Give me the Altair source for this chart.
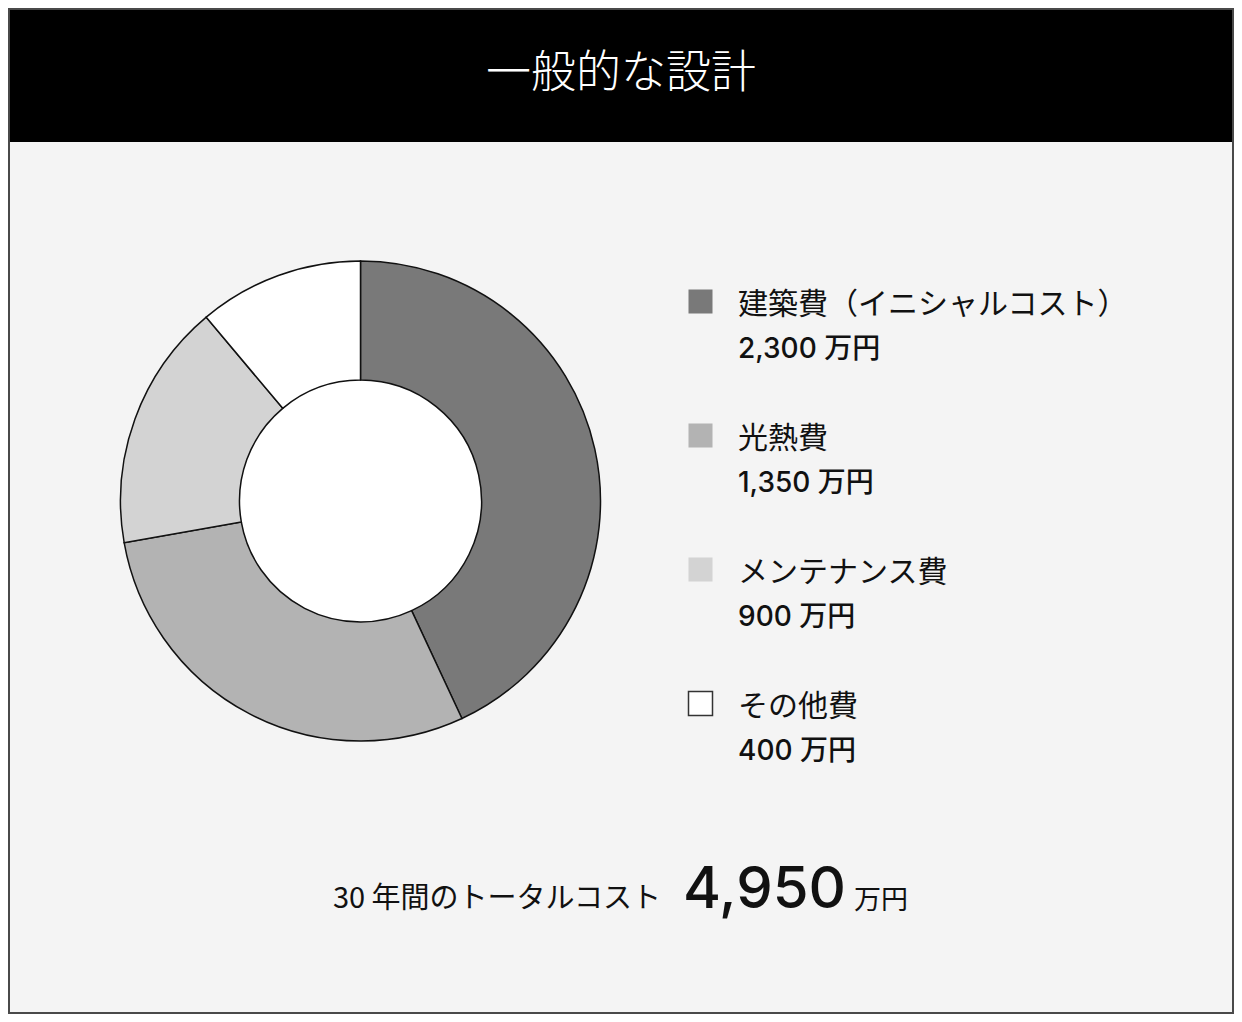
import altair as alt
import pandas as pd

# ---- data ----
categories = ["建築費（イニシャルコスト）", "光熱費", "メンテナンス費", "その他費"]
amounts = [2300, 1350, 900, 400]            # 万円, as printed in the legend
arc_degrees = [155, 105, 60, 40]            # slice sizes as drawn in the donut
colors = ["#797979", "#b3b3b3", "#d3d3d3", "#ffffff"]
title_text = "一般的な設計"
total_prefix = "30 年間のトータルコスト"
unit = "万円"
total = sum(amounts)

W, H = 1226, 1006
CJK = "Noto Sans CJK JP"
NUM = "Inter, Noto Sans CJK JP"

df = pd.DataFrame({
    "category": categories,
    "amount": amounts,
    "share": arc_degrees,
    "idx": list(range(len(categories))),
})
one = alt.Data(values=[{"a": 1}])
tot = alt.Data(values=[{"total": total}])

fill_scale = alt.Scale(domain=categories, range=colors)
yscale = alt.Scale(domain=[0, 3], range=[293.5, 695.5])
yenc = alt.Y("idx:Q", scale=yscale, axis=None)

cx, cy = 352.5, 493
r_in, r_out = 121, 240

header = alt.Chart(one).mark_rect(color="black").encode(
    x=alt.value(0), x2=alt.value(W), y=alt.value(0), y2=alt.value(134)
)
title = alt.Chart(one).mark_text(
    text=title_text, font=CJK, fontSize=45, color="white",
    align="center", baseline="alphabetic", fontWeight=300
).encode(x=alt.value(W / 2), y=alt.value(80))

hole = alt.Chart(one).mark_circle(
    size=(2 * r_in) ** 2, color="white", opacity=1
).encode(x=alt.value(cx), y=alt.value(cy))

donut = alt.Chart(df).mark_arc(
    outerRadius=r_out, innerRadius=r_in, stroke="#111111", strokeWidth=1.5
).encode(
    theta=alt.Theta("share:Q", stack=True),
    order=alt.Order("idx:Q"),
    fill=alt.Fill("category:N", scale=fill_scale, legend=None),
    x=alt.value(cx), y=alt.value(cy),
)

squares = alt.Chart(df).mark_square(size=576, opacity=1, strokeWidth=1.5).encode(
    x=alt.value(692.5),
    y=yenc,
    fill=alt.Fill("category:N", scale=fill_scale, legend=None),
    stroke=alt.condition("datum.idx == 3", alt.value("#333333"), alt.value("transparent")),
)

labels1 = alt.Chart(df).mark_text(
    align="left", baseline="alphabetic", fontSize=30, font=CJK,
    color="#111111", dy=12.5
).encode(x=alt.value(730), y=yenc, text="category:N")

labels2 = alt.Chart(df).transform_calculate(
    lbl="format(datum.amount, ',') + ' " + unit + "'"
).mark_text(
    align="left", baseline="alphabetic", fontSize=28, font=NUM,
    fontWeight=500, color="#111111", dy=56.5
).encode(x=alt.value(730), y=yenc, text="lbl:N")

prefix = alt.Chart(one).mark_text(
    text=total_prefix, align="right", baseline="alphabetic",
    fontSize=29, font=CJK, color="#111111"
).encode(x=alt.value(653), y=alt.value(900))

big = alt.Chart(tot).transform_calculate(
    t="format(datum.total, ',')"
).mark_text(
    align="center", baseline="alphabetic", fontSize=58, font=NUM,
    fontWeight=500, color="#111111"
).encode(x=alt.value(756.5), y=alt.value(900), text="t:N")

unit_text = alt.Chart(one).mark_text(
    text=unit, align="left", baseline="alphabetic",
    fontSize=27, font=CJK, color="#111111"
).encode(x=alt.value(846), y=alt.value(901))

border = alt.Chart(one).mark_rect(
    fillOpacity=0, stroke="#4a4a4a", strokeWidth=2
).encode(x=alt.value(1), x2=alt.value(W - 1), y=alt.value(1), y2=alt.value(H - 1))

chart = alt.layer(
    header, title, hole, donut, squares, labels1, labels2,
    prefix, big, unit_text, border
).properties(
    width=W, height=H, padding=0,
    autosize=alt.AutoSizeParams(type="none"),
    background="#f4f4f4",
).configure_view(strokeOpacity=0)

chart.save("out.html", embed_options={"renderer": "svg", "actions": False})
